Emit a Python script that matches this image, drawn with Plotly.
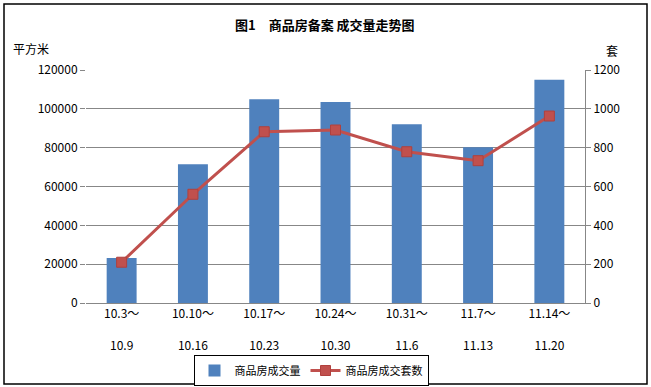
import plotly.graph_objects as go

categories = ["10.3～<br><br>10.9", "10.10～<br><br>10.16", "10.17～<br><br>10.23",
              "10.24～<br><br>10.30", "10.31～<br><br>11.6", "11.7～<br><br>11.13",
              "11.14～<br><br>11.20"]
area_values = [23200, 71500, 105000, 103500, 92000, 80200, 115000]
unit_values = [210, 560, 882, 891, 779, 733, 963]
left_ticks = [0, 20000, 40000, 60000, 80000, 100000, 120000]
left_tick_labels = ["0", "20000", "40000", "60000", "80000", "100000", "120000"]
right_ticks = [0, 200, 400, 600, 800, 1000, 1200]

FONT = "Noto Sans CJK SC"
GRID = "#878787"

fig = go.Figure()
fig.add_trace(go.Bar(
    x=categories, y=area_values, name="商品房成交量",
    marker=dict(color="#4F81BD", line=dict(width=0)),
    yaxis="y",
))
fig.add_trace(go.Scatter(
    x=categories, y=unit_values, name="商品房成交套数",
    mode="lines+markers",
    line=dict(color="#C0504D", width=3),
    marker=dict(symbol="square", size=10, color="#C0504D",
                line=dict(color="#B0403D", width=1)),
    yaxis="y2",
))

W, H = 651, 387
L, R, T, B = 86, 66, 70, 84
pw, ph = W - L - R, H - T - B

def px(x):
    return (x - L) / pw

def py(y):
    return (H - B - y) / ph

fig.update_layout(
    width=W, height=H,
    margin=dict(l=L, r=R, t=T, b=B, autoexpand=False),
    paper_bgcolor="white", plot_bgcolor="white",
    font=dict(family=FONT, size=12, color="black"),
    bargap=0.58,
    showlegend=True,
    legend=dict(orientation="h", x=px(311), y=py(370.5), xanchor="center", yanchor="middle",
                bordercolor="black", borderwidth=1, bgcolor="white",
                font=dict(family=FONT, size=11), itemwidth=30, tracegroupgap=0),
    xaxis=dict(showgrid=False, showline=True, linecolor=GRID, linewidth=1,
               ticks="", tickfont=dict(family=FONT, size=12), tickangle=0, automargin=False,
               ticklabelstandoff=0),
    yaxis=dict(range=[0, 120000], tickvals=left_ticks, ticktext=left_tick_labels,
               showgrid=True, gridcolor=GRID,
               gridwidth=1, showline=False, ticks="outside", ticklen=5, tickcolor=GRID,
               zeroline=False, tickfont=dict(family=FONT, size=12), automargin=False),
    yaxis2=dict(range=[0, 1200], tickvals=right_ticks, overlaying="y", side="right",
                showgrid=False, showline=True, linecolor=GRID, linewidth=1,
                ticks="outside", ticklen=5, tickcolor=GRID, zeroline=False,
                tickfont=dict(family=FONT, size=12), automargin=False),
    annotations=[
        dict(text="<b>图1　商品房备案 成交量走势图</b>", x=px(325), y=py(24),
             xref="paper", yref="paper", showarrow=False, xanchor="center", yanchor="middle",
             font=dict(family=FONT, size=13)),
        dict(text="平方米", x=px(11), y=py(49), xref="paper", yref="paper",
             showarrow=False, xanchor="left", yanchor="middle",
             font=dict(family=FONT, size=12)),
        dict(text="套", x=px(612), y=py(51), xref="paper", yref="paper",
             showarrow=False, xanchor="center", yanchor="middle",
             font=dict(family=FONT, size=12)),
    ],
    shapes=[
        dict(type="rect", xref="paper", yref="paper",
             x0=px(4), x1=px(647), y0=py(384), y1=py(4),
             line=dict(color="black", width=1.5), fillcolor="rgba(0,0,0,0)", layer="below"),
    ],
)

fig.write_html("out.html")
